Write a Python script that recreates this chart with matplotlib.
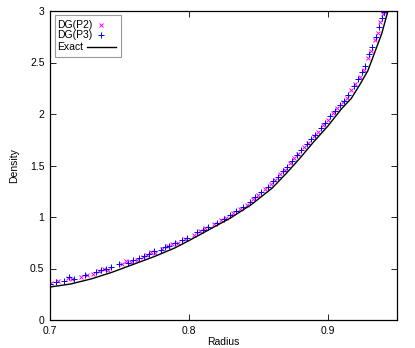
import matplotlib
matplotlib.use("Agg")
import matplotlib.pyplot as plt
from matplotlib.lines import Line2D
from matplotlib.patches import Rectangle

plt.rcParams['font.family'] = ['Liberation Sans', 'DejaVu Sans']
plt.rcParams['font.size'] = 7.5

W, H = 415, 348

# exact solution
exact_r = [0.700, 0.715, 0.730, 0.745, 0.760, 0.775, 0.790, 0.800, 0.815, 0.830,
           0.845, 0.860, 0.870, 0.880, 0.890, 0.900, 0.910, 0.917, 0.923, 0.929,
           0.934, 0.939, 0.9435]
exact_d = [0.32, 0.35, 0.40, 0.465, 0.54, 0.615, 0.70, 0.77, 0.88, 0.99,
           1.12, 1.28, 1.42, 1.57, 1.73, 1.88, 2.05, 2.15, 2.28, 2.42,
           2.60, 2.78, 3.0]

# DG(P2)
p2_r = [0.701, 0.706, 0.713, 0.716, 0.722, 0.727, 0.731, 0.735, 0.739, 0.742,
        0.752, 0.755, 0.758, 0.763, 0.767, 0.770, 0.773, 0.776, 0.781, 0.785,
        0.788, 0.792, 0.797, 0.804, 0.808, 0.812, 0.818, 0.823, 0.827, 0.832,
        0.837, 0.842, 0.846, 0.850, 0.855, 0.859, 0.862, 0.866, 0.869, 0.873,
        0.876, 0.879, 0.883, 0.886, 0.890, 0.893, 0.897, 0.900, 0.904, 0.907,
        0.911, 0.914, 0.917, 0.920, 0.923, 0.926, 0.929, 0.931, 0.934, 0.936,
        0.938, 0.940, 0.941]
p2_d = [0.36, 0.38, 0.41, 0.40, 0.42, 0.44, 0.45, 0.48, 0.50, 0.49,
        0.54, 0.57, 0.56, 0.58, 0.61, 0.63, 0.66, 0.65, 0.69, 0.72,
        0.74, 0.75, 0.79, 0.83, 0.86, 0.89, 0.93, 0.97, 0.99, 1.04,
        1.08, 1.12, 1.17, 1.21, 1.27, 1.32, 1.36, 1.42, 1.46, 1.52,
        1.57, 1.61, 1.68, 1.72, 1.79, 1.83, 1.89, 1.94, 2.01, 2.06,
        2.12, 2.16, 2.23, 2.29, 2.36, 2.43, 2.54, 2.61, 2.72, 2.79,
        2.89, 2.97, 2.99]

# DG(P3)
p3_r = [0.700, 0.704, 0.710, 0.714, 0.717, 0.725, 0.733, 0.737, 0.740, 0.744,
        0.750, 0.756, 0.760, 0.764, 0.768, 0.771, 0.775, 0.780, 0.783, 0.786,
        0.790, 0.795, 0.799, 0.806, 0.810, 0.814, 0.820, 0.825, 0.830, 0.834,
        0.839, 0.844, 0.848, 0.852, 0.857, 0.861, 0.864, 0.868, 0.871, 0.874,
        0.878, 0.881, 0.885, 0.888, 0.891, 0.895, 0.898, 0.902, 0.905, 0.909,
        0.912, 0.915, 0.919, 0.922, 0.925, 0.927, 0.930, 0.932, 0.935, 0.937,
        0.939, 0.9405]
p3_d = [0.35, 0.37, 0.38, 0.42, 0.40, 0.44, 0.47, 0.49, 0.50, 0.51,
        0.54, 0.55, 0.58, 0.60, 0.62, 0.64, 0.67, 0.68, 0.71, 0.72,
        0.75, 0.78, 0.80, 0.85, 0.87, 0.90, 0.94, 0.98, 1.02, 1.06,
        1.10, 1.15, 1.19, 1.24, 1.29, 1.35, 1.39, 1.45, 1.49, 1.54,
        1.60, 1.65, 1.71, 1.76, 1.80, 1.86, 1.91, 1.98, 2.03, 2.09,
        2.13, 2.18, 2.27, 2.34, 2.41, 2.47, 2.58, 2.65, 2.75, 2.84,
        2.93, 2.99]

fig = plt.figure(figsize=(W / 100, H / 100), dpi=100)
ax = fig.add_axes([50 / W, 28 / H, 347 / W, 309 / H])

ax.plot(p2_r, p2_d, 'x', color='#ff00ff', ms=3.5, mew=0.7)
ax.plot(p3_r, p3_d, '+', color='#0000ff', ms=4, mew=0.7)
ax.plot(exact_r, exact_d, '-', color='black', lw=1.0)

ax.set_xlim(0.7, 0.95)
ax.set_ylim(0, 3)
ax.set_xticks([0.7, 0.8, 0.9])
ax.set_xticklabels(['0.7', '0.8', '0.9'])
ax.set_yticks([0, 0.5, 1, 1.5, 2, 2.5, 3])
ax.set_yticklabels(['0', '0.5', '1', '1.5', '2', '2.5', '3'])
ax.tick_params(direction='in', top=True, right=True, length=4, width=0.6, pad=4)
for s in ax.spines.values():
    s.set_linewidth(0.9)

ax.set_xlabel('Radius', labelpad=1)
ax.set_ylabel('Density', labelpad=8)

# gnuplot-style key: text on the left, sample on the right
def fx(px):
    return px / W

def fy(py):
    return 1 - py / H

fig.add_artist(Rectangle((fx(55), fy(57)), 66 / W, 42 / H, transform=fig.transFigure,
                         facecolor='white', edgecolor='#999999', lw=0.8))
labels = ['DG(P2)', 'DG(P3)', 'Exact']
rows = [24.5, 35, 46.5]
for lab, row in zip(labels, rows):
    fig.text(fx(57), fy(row), lab, ha='left', va='center', fontsize=7.5)
fig.add_artist(Line2D([fx(101)], [fy(rows[0])], transform=fig.transFigure, marker='x',
                      color='#ff00ff', ms=3.5, mew=0.7, ls='none'))
fig.add_artist(Line2D([fx(101)], [fy(rows[1])], transform=fig.transFigure, marker='+',
                      color='#0000ff', ms=4, mew=0.7, ls='none'))
fig.add_artist(Line2D([fx(87), fx(116)], [fy(rows[2]), fy(rows[2])], transform=fig.transFigure,
                      color='black', lw=1.0))

fig.savefig('out.png', dpi=100)
